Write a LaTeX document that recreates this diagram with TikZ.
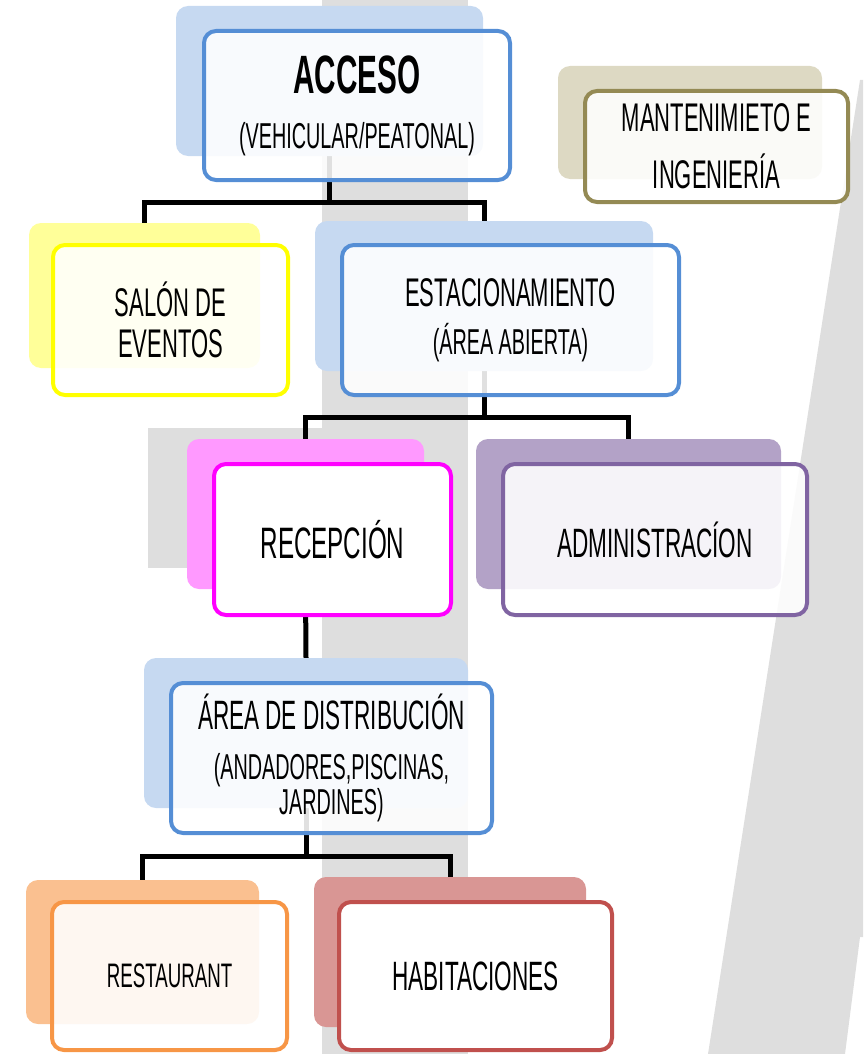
\documentclass[tikz,border=0pt]{standalone}
\usepackage{fontspec}
\setmainfont{Liberation Sans}[FakeStretch=0.55]
\usepackage{tikz}
\usetikzlibrary{calc}
\usepackage{xcolor}

\definecolor{bgGray}{HTML}{DEDEDE}
\definecolor{blueD}{HTML}{558ED5}\definecolor{blueL}{HTML}{C6D9F1}
\definecolor{yelD}{HTML}{FFFF00}\definecolor{yelL}{HTML}{FFFF99}
\definecolor{oliD}{HTML}{948A54}\definecolor{oliL}{HTML}{DDD9C3}
\definecolor{magD}{HTML}{FF00FF}\definecolor{magL}{HTML}{FF99FF}
\definecolor{purD}{HTML}{8064A2}\definecolor{purL}{HTML}{B3A2C7}
\definecolor{oraD}{HTML}{F79646}\definecolor{oraL}{HTML}{FAC090}
\definecolor{redD}{HTML}{C0504D}\definecolor{redL}{HTML}{D99694}

\newcommand{\fsz}[2]{\fontsize{#1}{#2}\selectfont}

\pgfdeclarelayer{back}
\pgfdeclarelayer{wires}
\pgfsetlayers{back,wires,main}

\begin{document}
\begin{tikzpicture}[x=1pt,y=-1pt,
  shade/.style={rounded corners=12pt,inner sep=0pt},
  box/.style={rounded corners=12pt,line width=4pt,fill=white,fill opacity=0.88,
    text opacity=1,align=center,inner sep=0pt},
  conn/.style={line width=5pt}]
\useasboundingbox (0,0) rectangle (863,1054);

% background
\begin{pgfonlayer}{back}
\fill[bgGray] (322,0) rectangle (468,1054);
\fill[bgGray] (148,428) rectangle (322,568);
\fill[bgGray] (860,80) -- (863,80) -- (863,937) -- (860,937) -- (845,1054) -- (708,1054) -- cycle;
\end{pgfonlayer}

\node[shade,fill=blueL,minimum width=307pt,minimum height=150pt] (accS) at (329.5,81) {};
\node[box,draw=blueD,minimum width=306pt,minimum height=149pt,font=\fsz{36}{55}] (accM) at (357,105.5)
  {{\fsz{54}{55}\bfseries ACCESO}\\(VEHICULAR/PEATONAL)};

\node[shade,fill=oliL,minimum width=264pt,minimum height=113pt] (manS) at (690,122.5) {};
\node[box,draw=oliD,minimum width=263pt,minimum height=111pt,font=\fsz{40}{57}] (manM) at (716.5,146.5)
  {MANTENIMIETO E\\INGENIERÍA};

\node[shade,fill=yelL,minimum width=231pt,minimum height=145pt] (salS) at (144.5,295.5) {};
\node[box,draw=yelD,minimum width=235pt,minimum height=150pt,font=\fsz{40}{41}] (salM) at (170.5,320)
  {SALÓN DE\\EVENTOS};

\node[shade,fill=blueL,minimum width=338pt,minimum height=150pt] (estS) at (484,296) {};
\node[box,draw=blueD,minimum width=337pt,minimum height=150pt,font=\fsz{36}{48}] (estM) at (510.5,320)
  {{\fsz{40}{48}ESTACIONAMIENTO}\\(ÁREA ABIERTA)};

\node[shade,fill=magL,minimum width=237pt,minimum height=150pt] (recS) at (305.5,514) {};
\node[box,draw=magD,fill opacity=1,minimum width=237pt,minimum height=151pt,font=\fsz{44}{44}] (recM) at (332.5,539.5)
  {RECEPCIÓN};

\node[shade,fill=purL,minimum width=305pt,minimum height=150pt] (admS) at (628.5,514) {};
\node[box,draw=purD,minimum width=304pt,minimum height=151pt,font=\fsz{41}{41}] (admM) at (655,539.5)
  {ADMINISTRACÍON};

\node[shade,fill=blueL,minimum width=324pt,minimum height=150pt] (areS) at (306,733) {};
\node[box,draw=blueD,minimum width=321pt,minimum height=150pt,font=\fsz{36}{35}] (areM) at (331.5,758)
  {{\fsz{41}{35}ÁREA DE DISTRIBUCIÓN}\\[15pt](ANDADORES,PISCINAS,\\JARDINES)};

\node[shade,fill=oraL,minimum width=233pt,minimum height=144pt] (resS) at (142.5,952) {};
\node[box,draw=oraD,minimum width=235pt,minimum height=148pt,font=\fsz{34}{34}] (resM) at (169.5,976)
  {RESTAURANT};

\node[shade,fill=redL,minimum width=272pt,minimum height=150pt] (habS) at (450,952) {};
\node[box,draw=redD,fill opacity=1,minimum width=273pt,minimum height=148pt,font=\fsz{41}{41}] (habM) at (475.5,976)
  {HABITACIONES};

% connectors
\begin{pgfonlayer}{wires}
\draw[conn] (accS.south) -- ++(0,46) -| (salS.north);
\draw[conn] (accS.south) -- ++(0,46) -| (estS.north);
\draw[conn] (estS.south) -- ++(0,46) -| (recS.north);
\draw[conn] (estS.south) -- ++(0,46) -| (admS.north);
\draw[conn] (recS.south) -- (areS.north);
\draw[conn] (areS.south) -- ++(0,48) -| (resS.north);
\draw[conn] (areS.south) -- ++(0,48) -| (habS.north);
\end{pgfonlayer}
\end{tikzpicture}
\end{document}
